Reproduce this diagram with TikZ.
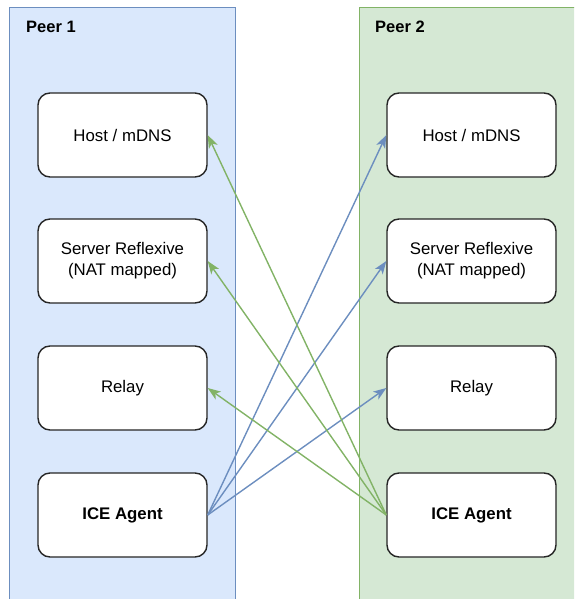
\documentclass[tikz,border=0pt]{standalone}
\usepackage{fontspec}
\setmainfont{Liberation Sans}
\usetikzlibrary{arrows.meta}
\definecolor{blueFill}{HTML}{DAE8FC}
\definecolor{blueLine}{HTML}{6C8EBF}
\definecolor{greenFill}{HTML}{D5E8D4}
\definecolor{greenLine}{HTML}{82B366}
\begin{document}
\begin{tikzpicture}[x=1pt,y=-1pt,
  peerbox/.style={line width=1.8pt},
  cand/.style={draw=black!85, fill=white, rounded corners=12pt, line width=1.4pt,
    minimum width=169pt, minimum height=84pt, align=center,
    font=\fontsize{16.8}{21}\selectfont, inner sep=0pt},
  peerlabel/.style={anchor=west, font=\fontsize{16.5}{20}\selectfont\bfseries, inner sep=0pt},
  tip/.style={-{Stealth[length=13pt,width=9.5pt,inset=3.5pt]}},
  bluearrow/.style={draw=blueLine, line width=1.4pt, tip},
  greenarrow/.style={draw=greenLine, line width=1.4pt, tip}]
\useasboundingbox (0,0) rectangle (574,599);
\begin{scope}
\clip (0,0) rectangle (574,599);
% the two peer containers
\draw[peerbox, fill=blueFill, draw=blueLine] (9.5,7.5) rectangle (235.5,620);
\draw[peerbox, fill=greenFill, draw=greenLine] (359.5,7.5) rectangle (600,620);
\end{scope}
\node[peerlabel] (p1) at (26,27) {Peer 1};
\node[peerlabel] (p2) at (375,27) {Peer 2};
% candidate boxes of peer 1
\node[cand] (h1) at (122.5,135) {Host / mDNS};
\node[cand] (s1) at (122.5,261) {Server Reflexive\\(NAT mapped)};
\node[cand] (r1) at (122.5,388) {Relay};
\node[cand] (a1) at (122.5,515) {\bfseries ICE Agent};
% candidate boxes of peer 2
\node[cand] (h2) at (471.5,135) {Host / mDNS};
\node[cand] (s2) at (471.5,261) {Server Reflexive\\(NAT mapped)};
\node[cand] (r2) at (471.5,388) {Relay};
\node[cand] (a2) at (471.5,515) {\bfseries ICE Agent};
% checks from peer 1's agent
\draw[bluearrow] (a1.east) -- (h2.west);
\draw[bluearrow] (a1.east) -- (s2.west);
\draw[bluearrow] (a1.east) -- (r2.west);
% checks from peer 2's agent
\draw[greenarrow] (a2.west) -- (h1.east);
\draw[greenarrow] (a2.west) -- (s1.east);
\draw[greenarrow] (a2.west) -- (r1.east);
\end{tikzpicture}
\end{document}
